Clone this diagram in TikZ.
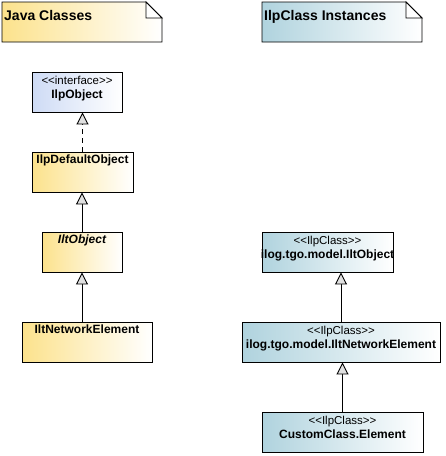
\documentclass[tikz,border=0pt]{standalone}
\usepackage{fontspec}
\newfontfamily\uifont{Liberation Sans}
\usetikzlibrary{arrows.meta,positioning}

\definecolor{javayellow}{RGB}{252,226,140}
\definecolor{ifblue}{RGB}{206,219,245}
\definecolor{ilpteal}{RGB}{176,211,222}
\definecolor{tipgray}{RGB}{224,224,224}

\tikzset{
    box/.style={draw=black, line width=0.9pt, inner sep=0pt, minimum height=40pt},
    jbox/.style={box, left color=javayellow, right color=white},
    ibox/.style={box, left color=ifblue, right color=white},
    cbox/.style={box, left color=ilpteal, right color=white},
    boxtext/.style={inner sep=0pt, align=center, font=\uifont\bfseries\fontsize{12}{14.5}\selectfont},
    notetext/.style={inner sep=0pt, anchor=base west, font=\uifont\bfseries\fontsize{14}{16}\selectfont},
    gen/.style={line width=0.9pt, -{Triangle[fill=tipgray, length=12pt, width=12pt]}},
}
\newcommand{\ster}[1]{{\mdseries\fontsize{11.5}{12}\selectfont <<#1>>}}

\begin{document}
\begin{tikzpicture}[x=1pt, y=-1pt]
    \useasboundingbox (0,0) rectangle (446,456);

    % notes
    \shade[left color=javayellow, right color=white] (2,2) -- (146,2) -- (162,18) -- (162,42) -- (2,42) -- cycle;
    \draw[line width=0.9pt] (2,2) -- (146,2) -- (162,18) -- (162,42) -- (2,42) -- cycle;
    \draw[line width=0.9pt, fill=white] (146,2) -- (146,18) -- (162,18) -- cycle;
    \node[notetext] (javanote) at (4,20) {Java Classes};

    \shade[left color=ilpteal, right color=white] (262,2) -- (406,2) -- (422,18) -- (422,42) -- (262,42) -- cycle;
    \draw[line width=0.9pt] (262,2) -- (406,2) -- (422,18) -- (422,42) -- (262,42) -- cycle;
    \draw[line width=0.9pt, fill=white] (406,2) -- (406,18) -- (422,18) -- cycle;
    \node[notetext] (ilpnote) at (264,20) {IlpClass Instances};

    % java classes
    \node[ibox, minimum width=90pt] (ipo) at (77,92) {};
    \node[boxtext, below=4pt of ipo.north] (ipo-t) {\ster{interface}\\IlpObject};

    \node[jbox, minimum width=101pt] (ido) at (82.5,172) {};
    \node[boxtext, below=3pt of ido.north] (ido-t) {IlpDefaultObject};

    \node[jbox, minimum width=80pt] (io) at (82,252) {};
    \node[boxtext, below=3pt of io.north] (io-t) {\itshape IltObject};

    \node[jbox, minimum width=130pt] (ne) at (87,342) {};
    \node[boxtext, below=3pt of ne.north] (ne-t) {IltNetworkElement};

    % ilpclass instances
    \node[cbox, minimum width=131pt] (r1) at (327.5,252) {};
    \node[boxtext, below=4pt of r1.north] (r1-t) {\ster{IlpClass}\\ilog.tgo.model.IltObject};

    \node[cbox, minimum width=198pt] (r2) at (341,342) {};
    \node[boxtext, below=4pt of r2.north] (r2-t) {\ster{IlpClass}\\ilog.tgo.model.IltNetworkElement};

    \node[cbox, minimum width=161pt] (r3) at (342.5,432) {};
    \node[boxtext, below=4pt of r3.north] (r3-t) {\ster{IlpClass}\\CustomClass.Element};

    % generalizations
    \draw[gen, dash pattern=on 5pt off 4pt] (ido.north) -- (ido.north |- ipo.south);
    \draw[gen] (io.north) -- (io.north |- ido.south);
    \draw[gen] (io.south |- ne.north) -- (io.south);
    \draw[gen] (r2.north) -- (r2.north |- r1.south);
    \draw[gen] (r3.north) -- (r3.north |- r2.south);
\end{tikzpicture}
\end{document}
